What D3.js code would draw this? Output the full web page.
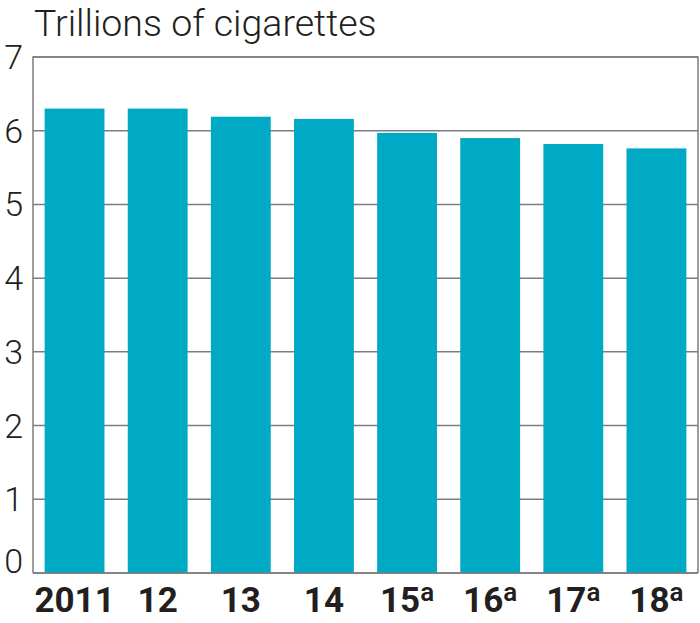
<!DOCTYPE html>
<html lang="en">
<head>
<meta charset="UTF-8">
<title>Cigarettes</title>
<style>
  body { margin: 0; background: #fff; }
  text { font-family: Roboto, "Noto Sans", sans-serif; fill: #231f20; }
</style>
</head>
<body>
<svg width="700" height="623" id="svg"></svg>
<script src="https://d3js.org/d3.v7.min.js"></script>
<script>
const years = ["2011", "12", "13", "14", "15", "16", "17", "18"]
const forecast = [false, false, false, false, true, true, true, true]
const values = [6.30, 6.30, 6.19, 6.16, 5.97, 5.90, 5.82, 5.76]
const yTicks = [0, 1, 2, 3, 4, 5, 6, 7]
const title = "Trillions of cigarettes"

const svg = d3.select("svg#svg")
const pad = { left: 33, right: 698, top: 57, bottom: 573 }

const x = d3.scaleBand().domain(years).range([pad.left, pad.right]).paddingInner(0.28).paddingOuter(0.14)
const y = d3.scaleLinear().domain([0, 7]).range([pad.bottom, pad.top])

// gridlines
svg.append("g").selectAll("line").data(yTicks).join("line")
  .attr("x1", pad.left).attr("x2", pad.right)
  .attr("y1", d => y(d)).attr("y2", d => y(d))
  .attr("stroke", "#7d7d7d").attr("stroke-width", 1.5)

// bars
svg.append("g").selectAll("rect").data(values).join("rect")
  .attr("x", (d, i) => x(years[i]))
  .attr("width", x.bandwidth())
  .attr("y", d => y(d))
  .attr("height", d => y(0) - y(d))
  .attr("fill", "#00aac5")

// frame
svg.append("path")
  .attr("d", `M${pad.left},${pad.bottom}V${pad.top}H${pad.right}V${pad.bottom}`)
  .attr("fill", "none").attr("stroke", "#7d7d7d").attr("stroke-width", 1.5)
svg.append("line").attr("x1", pad.left).attr("x2", pad.right).attr("y1", y(0)).attr("y2", y(0))
  .attr("stroke", "#7d7d7d").attr("stroke-width", 1.5)

// y labels
svg.append("g").selectAll("text").data(yTicks).join("text")
  .attr("x", 23)
  .attr("y", d => d === 0 ? y(0) : y(d) + 12)
  .attr("text-anchor", "end")
  .attr("font-size", 34).attr("font-weight", 300)
  .text(d => d)

// x labels
const xl = svg.append("g").selectAll("text").data(years).join("text")
  .attr("x", (d, i) => x(d) + x.bandwidth() / 2)
  .attr("y", 612)
  .attr("text-anchor", "middle")
  .attr("font-size", 35).attr("font-weight", 700)
xl.append("tspan").text(d => d)
xl.filter((d, i) => forecast[i]).append("tspan")
  .attr("font-size", 26).attr("font-weight", 600).attr("dy", -11).text("a")

// title
svg.append("text").attr("x", 34).attr("y", 36)
  .attr("font-size", 37.5).attr("font-weight", 300)
  .text(title)
</script>
</body>
</html>
